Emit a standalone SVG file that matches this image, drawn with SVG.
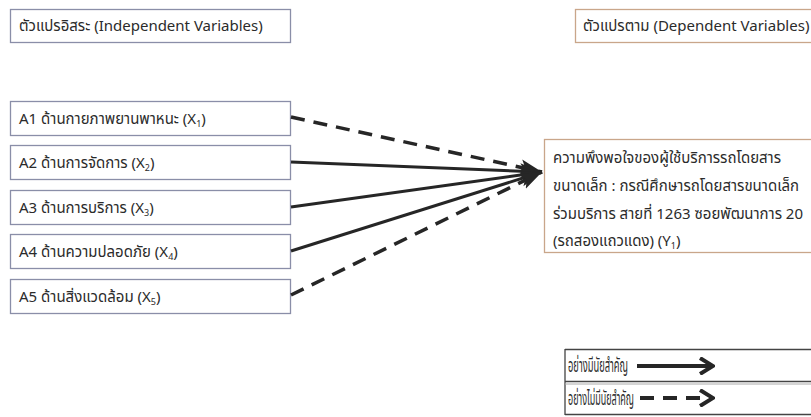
<svg xmlns="http://www.w3.org/2000/svg" width="811" height="417" viewBox="0 0 811 417">
<style>
.t{font-family:Tahoma,"Noto Sans Thai","Noto Sans","DejaVu Sans","Liberation Sans",sans-serif;font-size:15px;fill:#2b2b2b}
.lg{font-family:Tahoma,"Noto Sans Thai","Noto Sans","DejaVu Sans","Liberation Sans",sans-serif;font-size:19px;fill:#2b2b2b}
.bx{fill:#fff;stroke:#8a8ea8;stroke-width:1.3}
.bt{fill:#fff;stroke:#c9a68a;stroke-width:1.3}
.sol{stroke:#262626;stroke-width:3;fill:none}
.das{stroke:#262626;stroke-width:3.5;fill:none;stroke-dasharray:14 9}
.sub{font-size:9px}
</style>
<defs>
<marker id="ah" markerUnits="userSpaceOnUse" markerWidth="24" markerHeight="20" viewBox="0 0 24 20" refX="22" refY="10" orient="auto">
<path d="M0,2 L22,10 L0,18 L5,10 Z" fill="#262626"/>
</marker>
<marker id="lh" markerUnits="userSpaceOnUse" markerWidth="16" markerHeight="18" viewBox="0 0 16 18" refX="14" refY="9" orient="auto">
<path d="M1,1 L14,9 L1,17" fill="none" stroke="#262626" stroke-width="4"/>
</marker>
</defs>
<rect width="811" height="417" fill="#fff"/>

<g id="hdr-independent">
<rect class="bx" x="10.5" y="9.5" width="280" height="33"/>
<text class="t" x="19" y="31">ตัวแปรอิสระ (Independent Variables)</text>
</g>
<g id="hdr-dependent">
<rect class="bt" x="575.5" y="9.5" width="245" height="33"/>
<text class="t" x="583" y="31">ตัวแปรตาม (Dependent Variables)</text>
</g>

<g id="A1">
<rect class="bx" x="10.5" y="101.5" width="280" height="34"/>
<text class="t" x="19" y="124">A1 ด้านกายภาพยานพาหนะ (X<tspan class="sub" dy="3">1</tspan><tspan dy="-3">)</tspan></text>
</g>
<g id="A2">
<rect class="bx" x="10.5" y="145.5" width="280" height="34"/>
<text class="t" x="19" y="168">A2 ด้านการจัดการ (X<tspan class="sub" dy="3">2</tspan><tspan dy="-3">)</tspan></text>
</g>
<g id="A3">
<rect class="bx" x="10.5" y="190.5" width="280" height="34"/>
<text class="t" x="19" y="213">A3 ด้านการบริการ (X<tspan class="sub" dy="3">3</tspan><tspan dy="-3">)</tspan></text>
</g>
<g id="A4">
<rect class="bx" x="10.5" y="234.5" width="280" height="34"/>
<text class="t" x="19" y="257">A4 ด้านความปลอดภัย (X<tspan class="sub" dy="3">4</tspan><tspan dy="-3">)</tspan></text>
</g>
<g id="A5">
<rect class="bx" x="10.5" y="279.5" width="280" height="34"/>
<text class="t" x="19" y="302">A5 ด้านสิ่งแวดล้อม (X<tspan class="sub" dy="3">5</tspan><tspan dy="-3">)</tspan></text>
</g>

<g id="Y1">
<rect class="bt" x="544.5" y="139.5" width="276" height="113"/>
<text class="t" x="553" y="163">ความพึงพอใจของผู้ใช้บริการรถโดยสาร</text>
<text class="t" x="553" y="191">ขนาดเล็ก : กรณีศึกษารถโดยสารขนาดเล็ก</text>
<text class="t" x="553" y="219">ร่วมบริการ สายที่ 1263 ซอยพัฒนาการ 20</text>
<text class="t" x="553" y="246">(รถสองแถวแดง) (Y<tspan class="sub" dy="3">1</tspan><tspan dy="-3">)</tspan></text>
</g>

<g id="connectors">
<line class="das" x1="291" y1="117" x2="542" y2="172" marker-end="url(#ah)"/>
<line class="sol" x1="291" y1="162" x2="542" y2="172" marker-end="url(#ah)"/>
<line class="sol" x1="291" y1="207" x2="542" y2="172" marker-end="url(#ah)"/>
<line class="sol" x1="291" y1="251" x2="542" y2="172" marker-end="url(#ah)"/>
<line class="das" x1="291" y1="295" x2="542" y2="172" marker-end="url(#ah)"/>
</g>

<g id="legend">
<path d="M565,349.5 H811 M565,381.5 H811 M565,349 V415 M565,414.5 H811" fill="none" stroke="#444" stroke-width="1.3"/>
<path d="M565,384 H811" stroke="#aaa" stroke-width="1"/>
<text class="lg" x="568" y="372" textLength="60" lengthAdjust="spacingAndGlyphs">อย่างมีนัยสำคัญ</text>
<text class="lg" x="568" y="405" textLength="66" lengthAdjust="spacingAndGlyphs">อย่างไม่มีนัยสำคัญ</text>
<line x1="637" y1="366" x2="713" y2="366" stroke="#262626" stroke-width="4" marker-end="url(#lh)"/>
<line x1="640" y1="398" x2="713" y2="398" stroke="#262626" stroke-width="4" stroke-dasharray="14 9" marker-end="url(#lh)"/>
</g>
</svg>
